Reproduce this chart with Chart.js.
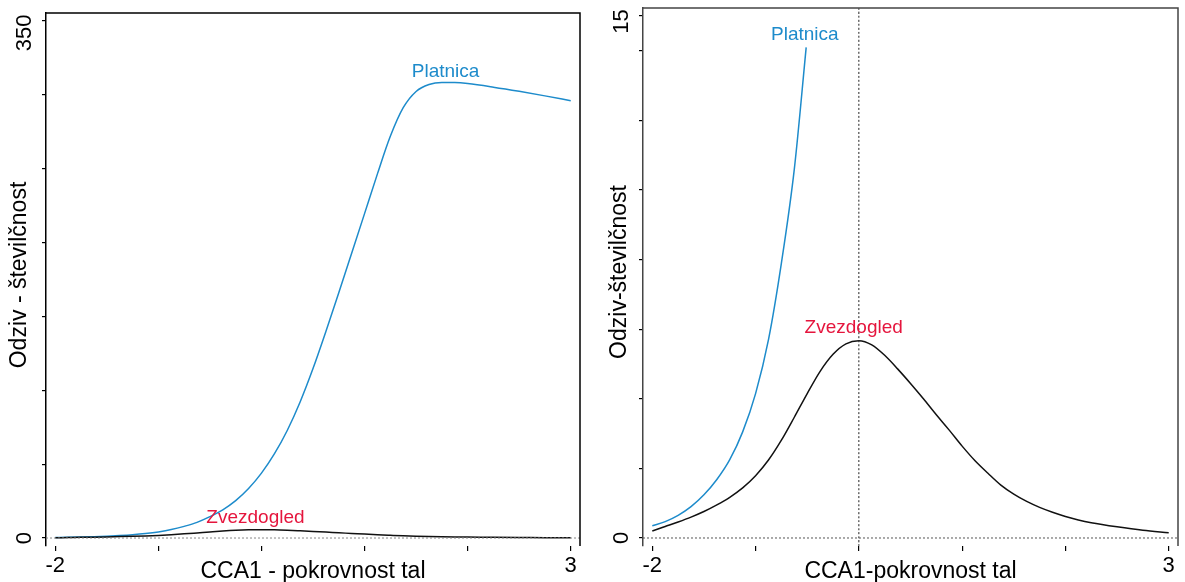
<!DOCTYPE html>
<html>
<head>
<meta charset="utf-8">
<script src="https://cdn.jsdelivr.net/npm/chart.js@4/dist/chart.umd.min.js"></script>
<style>
  html, body { margin: 0; padding: 0; background: #fff; overflow: hidden; }
  #wrap { position: relative; width: 1185px; height: 582px; }
  canvas { position: absolute; top: 0; }
  #c1 { left: 0; }
  #c2 { left: 592px; }
</style>
</head>
<body>
<div id="wrap">
  <canvas id="c1" width="592" height="582"></canvas>
  <canvas id="c2" width="593" height="582"></canvas>
</div>
<script>
// Response curves along the first CCA axis (soil cover gradient)
const platnicaX = [-2, -1.875, -1.75, -1.625, -1.5, -1.375, -1.25, -1.125, -1.0, -0.875, -0.75, -0.625, -0.51,
                   -0.375, -0.25, -0.125, 0, 0.125, 0.25, 0.375, 0.5, 0.625, 0.75, 0.875, 1.0, 1.125, 1.25,
                   1.375, 1.5, 1.625, 1.75, 1.875, 2.0, 2.25, 2.5, 2.75, 3.0];
const platnicaY = [0.35, 0.47, 0.65, 0.9, 1.24, 1.68, 2.25, 3.05, 4.15, 5.7, 7.9, 10.6, 14.1,
                   19.1, 25.3, 33.5, 43.9, 56.9, 72.8, 92.1, 114.7, 139.8, 166.1, 192.8, 219.6, 246.5, 271.9,
                   291.3, 302.3, 307.0, 308.4, 308.3, 307.6, 305.2, 302.4, 299.3, 296.0];

const zvezdogledX = [-2, -1.875, -1.75, -1.625, -1.5, -1.375, -1.25, -1.125, -1.0, -0.875, -0.75, -0.625, -0.5,
                     -0.375, -0.25, -0.125, 0, 0.125, 0.25, 0.375, 0.5, 0.625, 0.75, 0.875, 1.0, 1.125, 1.25,
                     1.375, 1.5, 1.625, 1.75, 1.875, 2.0, 2.125, 2.25, 2.5, 2.75, 3.0];
const zvezdogledY = [0.2, 0.33, 0.46, 0.6, 0.76, 0.95, 1.17, 1.44, 1.79, 2.24, 2.81, 3.47, 4.15,
                     4.79, 5.28, 5.58, 5.67, 5.55, 5.25, 4.86, 4.44, 4.0, 3.54, 3.1, 2.64, 2.22, 1.86,
                     1.52, 1.26, 1.05, 0.88, 0.74, 0.62, 0.52, 0.44, 0.32, 0.22, 0.15];

// Axis ticks and the labels printed on them
const xTicks = [-2, -1, 0, 1, 2, 3];
const xTickLabels = { '-2': '-2', '3': '3' };
const leftYTicks = [0, 50, 100, 150, 200, 250, 300, 350];
const leftYLabels = [0, 350];
const rightYTicks = [0, 2, 4, 6, 8, 10, 12, 14, 15];
const rightYLabels = [0, 15];

// Right panel shows the rising part of the Platnica curve only
const platnicaRightEnd = -0.51;

const BLUE = '#1d8bcb';
const RED = '#e5153d';
const FONT = "'Liberation Sans', Arial, sans-serif";

const pts = (xs, ys) => xs.map((x, i) => ({ x, y: ys[i] }));

Chart.defaults.font.family = FONT;

const framePlugin = {
  id: 'panelFrame',
  afterDraw(chart, args, o) {
    const { ctx, chartArea: a, scales: { x, y } } = chart;
    ctx.save();
    // top and right sides of the plot box
    ctx.strokeStyle = o.frameColor;
    ctx.lineWidth = 1.5;
    ctx.beginPath();
    ctx.moveTo(a.left, a.top);
    ctx.lineTo(a.right, a.top);
    ctx.lineTo(a.right, a.bottom);
    ctx.stroke();

    // species names
    ctx.textAlign = 'center';
    ctx.textBaseline = 'middle';
    ctx.font = '19px ' + FONT;
    for (const l of o.names) {
      ctx.fillStyle = l.color;
      ctx.fillText(l.text, x.getPixelForValue(l.x), y.getPixelForValue(l.y));
    }

    // rotated y tick labels
    ctx.fillStyle = '#000';
    ctx.font = '22px ' + FONT;
    for (const v of o.yLabels) {
      const py = y.getPixelForValue(v) + (v === o.yLabels[o.yLabels.length - 1] ? o.topLabelShift : 0);
      ctx.save();
      ctx.translate(o.yLabelX, py);
      ctx.rotate(-Math.PI / 2);
      ctx.fillText(String(v), 0, 0);
      ctx.restore();
    }

    // axis titles
    ctx.font = '23px ' + FONT;
    ctx.fillText(o.xTitle, (a.left + a.right) / 2, o.xTitleY);
    ctx.save();
    ctx.translate(o.yTitleX, o.yTitleY);
    ctx.rotate(-Math.PI / 2);
    ctx.fillText(o.yTitle, 0, 0);
    ctx.restore();
    ctx.restore();
  }
};

function makeChart(canvas, cfg) {
  return new Chart(canvas, {
    type: 'line',
    data: { datasets: cfg.datasets },
    plugins: [framePlugin],
    options: {
      responsive: false,
      animation: false,
      layout: { padding: { top: cfg.top, right: cfg.right, left: 0, bottom: 0 } },
      elements: { point: { radius: 0 }, line: { cubicInterpolationMode: 'monotone', borderWidth: 1.5 } },
      plugins: {
        legend: { display: false },
        tooltip: { enabled: false },
        panelFrame: cfg.frame
      },
      scales: {
        x: {
          type: 'linear',
          min: -2.09,
          max: 3.09,
          afterBuildTicks: s => { s.ticks = xTicks.map(v => ({ value: v })); },
          afterFit: s => { s.height = 36; },
          border: { display: false },
          grid: { drawOnChartArea: false, drawTicks: true, tickLength: 5, color: '#000', lineWidth: 1.2 },
          ticks: {
            autoSkip: false, maxRotation: 0, minRotation: 0, padding: 2,
            color: '#000', font: { size: 22, family: FONT },
            callback: v => xTickLabels[String(v)] || ''
          }
        },
        y: {
          type: 'linear',
          min: cfg.yMin,
          max: cfg.yMax,
          afterBuildTicks: s => { s.ticks = cfg.yTicks.map(v => ({ value: v })); },
          afterFit: s => { s.width = cfg.yWidth; },
          border: { display: true, color: cfg.frame.frameColor, width: 1.5 },
          grid: { drawOnChartArea: false, drawTicks: true, tickLength: 4, color: '#000', lineWidth: 1.2 },
          ticks: { display: false }
        }
      }
    }
  });
}

const zeroLine = (c) => ({
  data: [{ x: -2.09, y: 0 }, { x: 3.09, y: 0 }],
  borderColor: c, borderWidth: 1, borderDash: [2, 2], tension: 0
});

// Left panel: full response curves
makeChart(document.getElementById('c1'), {
  top: 13, right: 12, yWidth: 46,
  yMin: -5.4, yMax: 355.4, yTicks: leftYTicks,
  datasets: [
    zeroLine('#888'),
    { data: pts(zvezdogledX, zvezdogledY), borderColor: '#111' },
    { data: pts(platnicaX, platnicaY), borderColor: BLUE }
  ],
  frame: {
    frameColor: '#000',
    names: [
      { text: 'Platnica', x: 1.786, y: 315.5, color: BLUE },
      { text: 'Zvezdogled', x: -0.058, y: 13.5, color: RED }
    ],
    yLabels: leftYLabels, yLabelX: 25, topLabelShift: 12,
    xTitle: 'CCA1 - pokrovnost tal', xTitleY: 572,
    yTitle: 'Odziv - številčnost', yTitleX: 20, yTitleY: 275
  }
});

// Right panel: zoomed to the low-abundance range
const rightCut = platnicaX.filter(v => v <= platnicaRightEnd).length;
makeChart(document.getElementById('c2'), {
  top: 8, right: 7, yWidth: 51,
  yMin: -0.23, yMax: 15.23, yTicks: rightYTicks,
  datasets: [
    zeroLine('#555'),
    { data: [{ x: 0, y: -0.23 }, { x: 0, y: 15.23 }], borderColor: '#222', borderWidth: 1, borderDash: [2, 2], tension: 0 },
    { data: pts(zvezdogledX, zvezdogledY), borderColor: '#111' },
    { data: pts(platnicaX.slice(0, rightCut), platnicaY.slice(0, rightCut)), borderColor: BLUE }
  ],
  frame: {
    frameColor: '#444',
    names: [
      { text: 'Platnica', x: -0.523, y: 14.45, color: BLUE },
      { text: 'Zvezdogled', x: -0.05, y: 6.03, color: RED }
    ],
    yLabels: rightYLabels, yLabelX: 30, topLabelShift: 5.5,
    xTitle: 'CCA1-pokrovnost tal', xTitleY: 572,
    yTitle: 'Odziv-številčnost', yTitleX: 28, yTitleY: 272
  }
});
</script>
</body>
</html>
